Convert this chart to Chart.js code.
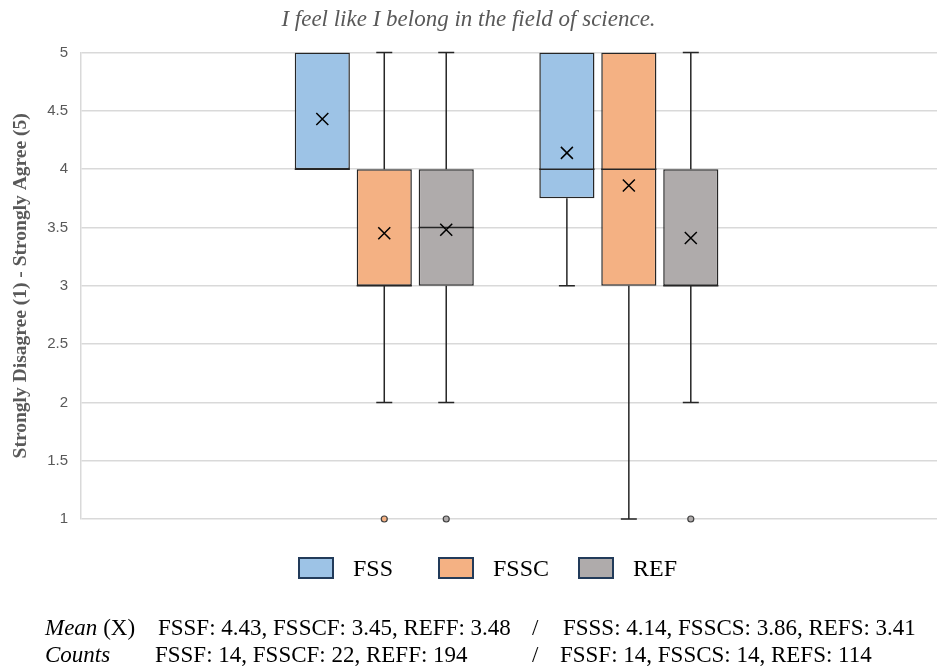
<!DOCTYPE html>
<html>
<head>
<meta charset="utf-8">
<script src="https://cdn.jsdelivr.net/npm/chart.js@4.4.1/dist/chart.umd.min.js"></script>
<style>
    html, body { margin: 0; padding: 0; background: #fff; }
    #wrap { position: relative; width: 945px; height: 666px; }
    #chart { position: absolute; left: 0; top: 0; }
    .foot { position: absolute; font-family: "Liberation Serif", "DejaVu Serif", serif; font-size: 23px; line-height: 26px; color: #000; white-space: nowrap; }
    .foot i { font-style: italic; }
    #legend { position: absolute; left: 298px; top: 557px; height: 22px; white-space: nowrap; }
    #legend .item { display: inline-block; width: 140px; height: 22px; position: relative; }
    #legend .box { position: absolute; left: 0; top: 0; width: 36px; height: 22px; box-sizing: border-box; border: 2.5px solid #223B5A; }
    #legend .txt { position: absolute; left: 55px; top: -3px; font-family: "Liberation Serif", serif; font-size: 24px; line-height: 28px; color: #000; }
</style>
</head>
<body>
<div id="wrap">
    <canvas id="chart" width="945" height="666"></canvas>
    <div id="legend"></div>
    <div class="foot" style="left:45px; top:615px;"><i>Mean</i> (X)</div>
    <div class="foot" style="left:158px; top:615px;">FSSF: 4.43, FSSCF: 3.45, REFF: 3.48</div>
    <div class="foot" style="left:532px; top:615px;">/</div>
    <div class="foot" style="left:563px; top:615px;">FSSS: 4.14, FSSCS: 3.86, REFS: 3.41</div>
    <div class="foot" style="left:45px; top:642px;"><i>Counts</i></div>
    <div class="foot" style="left:155px; top:642px;">FSSF: 14, FSSCF: 22, REFF: 194</div>
    <div class="foot" style="left:532px; top:642px;">/</div>
    <div class="foot" style="left:560px; top:642px;">FSSF: 14, FSSCS: 14, REFS: 114</div>
</div>
<script>
// two groups along x, three series in each
const groups = ['F', 'S'];
const seriesNames = ['FSS', 'FSSC', 'REF'];
const seriesColors = ['#9DC3E6', '#F4B183', '#AFABAB'];

const fssQ1 = [4, 3.75];
const fssQ3 = [5, 5];
const fssMedian = [4, 4];
const fssMin = [4, 3];
const fssMax = [5, 5];
const fssMean = [4.43, 4.14];
const fssOutliers = [[], []];

const fsscQ1 = [3, 3];
const fsscQ3 = [4, 5];
const fsscMedian = [3, 4];
const fsscMin = [2, 1];
const fsscMax = [5, 5];
const fsscMean = [3.45, 3.86];
const fsscOutliers = [[1], []];

const refQ1 = [3, 3];
const refQ3 = [4, 4];
const refMedian = [3.5, 3];
const refMin = [2, 2];
const refMax = [5, 5];
const refMean = [3.48, 3.41];
const refOutliers = [[1], [1]];

const yTicks = [1, 1.5, 2, 2.5, 3, 3.5, 4, 4.5, 5];

const stats = [
    { q1: fssQ1, q3: fssQ3, med: fssMedian, min: fssMin, max: fssMax, mean: fssMean, out: fssOutliers },
    { q1: fsscQ1, q3: fsscQ3, med: fsscMedian, min: fsscMin, max: fsscMax, mean: fsscMean, out: fsscOutliers },
    { q1: refQ1, q3: refQ3, med: refMedian, min: refMin, max: refMax, mean: refMean, out: refOutliers }
];

const datasets = seriesNames.map((name, s) => ({
    label: name,
    data: groups.map((g, i) => ({ x: i + 1, y: [stats[s].q1[i], stats[s].q3[i]] })),
    backgroundColor: seriesColors[s],
    borderColor: '#262626',
    borderWidth: 1.5,
    borderSkipped: false,
    categoryPercentage: 0.76,
    barPercentage: 0.89
}));

// whiskers, medians, means and outliers, placed on the bars drawn by chart.js
const boxExtras = {
    id: 'boxExtras',
    afterDatasetsDraw(chart) {
        const ctx = chart.ctx;
        const y = chart.scales.y;
        ctx.save();
        chart.data.datasets.forEach((ds, s) => {
            const meta = chart.getDatasetMeta(s);
            const st = stats[s];
            meta.data.forEach((bar, i) => {
                const cx = bar.x;
                const half = bar.width / 2;
                const yq1 = y.getPixelForValue(st.q1[i]);
                const yq3 = y.getPixelForValue(st.q3[i]);
                ctx.strokeStyle = '#262626';
                ctx.lineWidth = 1.5;
                // whiskers
                if (st.min[i] < st.q1[i]) {
                    const ym = y.getPixelForValue(st.min[i]);
                    ctx.beginPath();
                    ctx.moveTo(cx, yq1);
                    ctx.lineTo(cx, ym);
                    ctx.moveTo(cx - 8, ym);
                    ctx.lineTo(cx + 8, ym);
                    ctx.stroke();
                }
                if (st.max[i] > st.q3[i]) {
                    const yM = y.getPixelForValue(st.max[i]);
                    ctx.beginPath();
                    ctx.moveTo(cx, yq3);
                    ctx.lineTo(cx, yM);
                    ctx.moveTo(cx - 8, yM);
                    ctx.lineTo(cx + 8, yM);
                    ctx.stroke();
                }
                // median
                const ymed = y.getPixelForValue(st.med[i]);
                ctx.beginPath();
                ctx.moveTo(cx - half, ymed);
                ctx.lineTo(cx + half, ymed);
                ctx.stroke();
                // mean marker
                const ymean = y.getPixelForValue(st.mean[i]);
                ctx.strokeStyle = '#000';
                ctx.beginPath();
                ctx.moveTo(cx - 6, ymean - 6);
                ctx.lineTo(cx + 6, ymean + 6);
                ctx.moveTo(cx + 6, ymean - 6);
                ctx.lineTo(cx - 6, ymean + 6);
                ctx.stroke();
                // outliers
                st.out[i].forEach(v => {
                    ctx.beginPath();
                    ctx.arc(cx, y.getPixelForValue(v), 3, 0, Math.PI * 2);
                    ctx.fillStyle = seriesColors[s];
                    ctx.fill();
                    ctx.strokeStyle = '#404040';
                    ctx.lineWidth = 1.2;
                    ctx.stroke();
                });
            });
        });
        ctx.restore();
    }
};

const chart = new Chart(document.getElementById('chart'), {
    type: 'bar',
    data: { datasets: datasets },
    options: {
        responsive: false,
        animation: false,
        layout: { padding: { top: 6, bottom: 147, left: 0, right: 8 } },
        scales: {
            x: {
                type: 'linear',
                min: -0.24,
                max: 3.26,
                offset: false,
                display: false,
                afterBuildTicks: scale => {
                    scale.ticks = groups.map((g, i) => ({ value: i + 1 }));
                }
            },
            y: {
                min: 1,
                max: 5,
                afterBuildTicks: scale => {
                    scale.ticks = yTicks.map(v => ({ value: v }));
                },
                afterFit: scale => { scale.width = 81; },
                grid: { color: '#D9D9D9', lineWidth: 1.5, drawTicks: false },
                border: { display: true, color: '#D9D9D9', width: 1.5 },
                ticks: {
                    padding: 13,
                    color: '#595959',
                    callback: v => String(v),
                    font: { family: '"Liberation Sans", sans-serif', size: 15 }
                },
                title: {
                    display: true,
                    text: 'Strongly Disagree (1) - Strongly Agree (5)',
                    color: '#595959',
                    padding: { top: 9, bottom: 0 },
                    font: { family: '"Liberation Serif", serif', size: 19.5, weight: 'bold' }
                }
            }
        },
        plugins: {
            title: {
                display: true,
                text: 'I feel like I belong in the field of science.',
                color: '#595959',
                padding: { top: 0, bottom: 19 },
                font: { family: '"Liberation Serif", serif', size: 23, style: 'italic', weight: 'normal' }
            },
            legend: { display: false },
            tooltip: { enabled: false }
        }
    },
    plugins: [boxExtras]
});

// legend built from the chart's datasets
const legendEl = document.getElementById('legend');
chart.data.datasets.forEach(ds => {
    const item = document.createElement('span');
    item.className = 'item';
    item.innerHTML = '<span class="box" style="background:' + ds.backgroundColor + '"></span><span class="txt">' + ds.label + '</span>';
    legendEl.appendChild(item);
});
</script>
</body>
</html>
